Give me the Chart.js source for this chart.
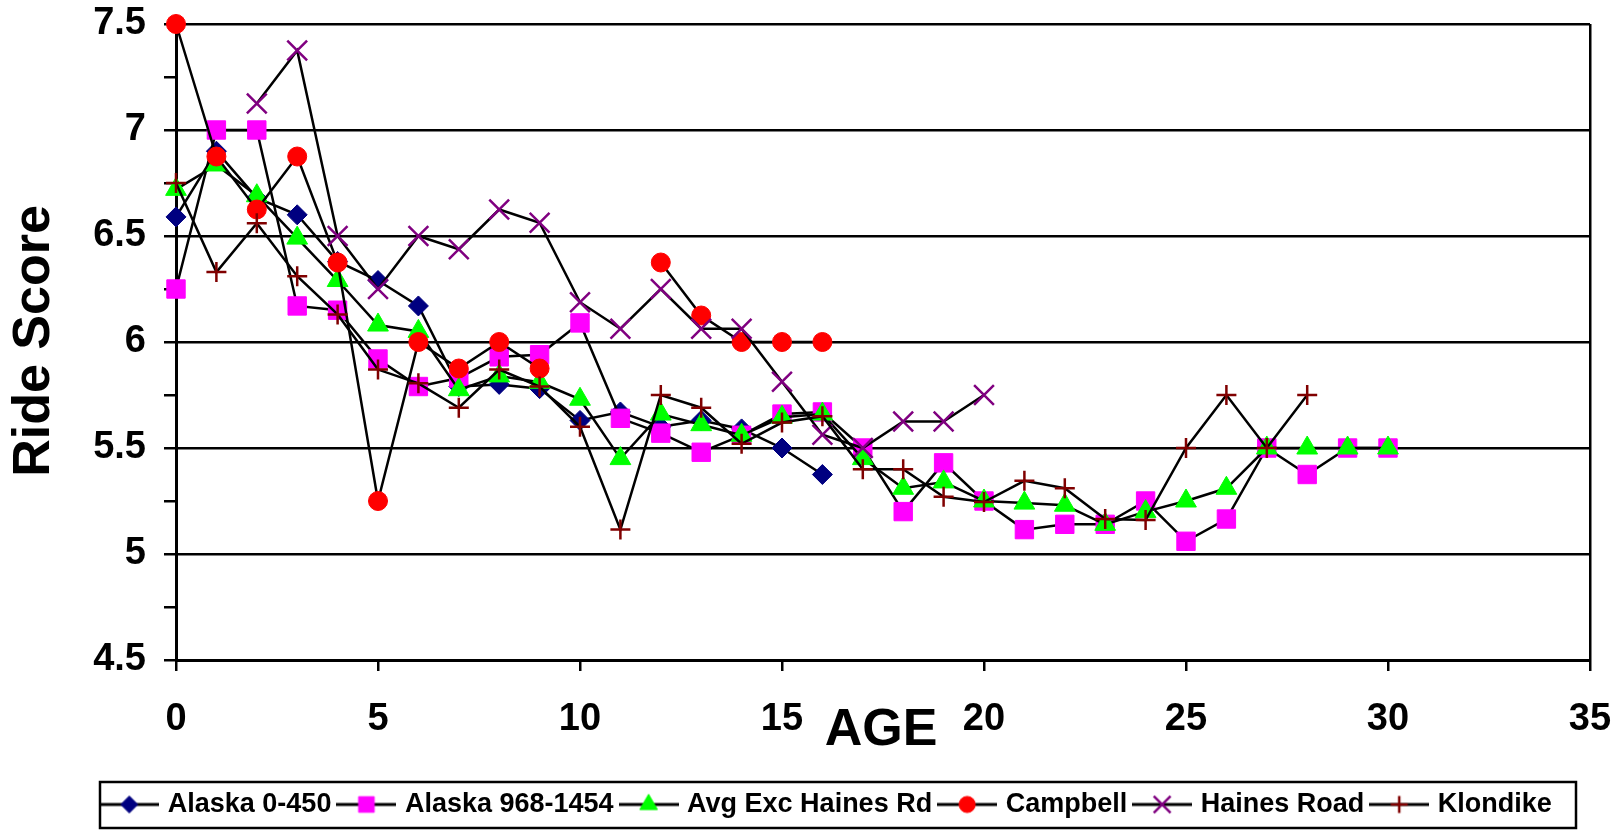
<!DOCTYPE html>
<html>
<head>
<meta charset="utf-8">
<script src="https://cdn.jsdelivr.net/npm/chart.js@4.4.1/dist/chart.umd.min.js"></script>
<style>
  html, body { margin: 0; padding: 0; background: #fff; }
</style>
</head>
<body>
<canvas id="rideChart" width="1624" height="830"></canvas>
<script>
// ride score by pavement age (years)
const ages = [0, 1, 2, 3, 4, 5, 6, 7, 8, 9, 10, 11, 12, 13, 14, 15, 16, 17, 18, 19, 20,
              21, 22, 23, 24, 25, 26, 27, 28, 29, 30];

const alaska0450 = [6.59, 6.90, 6.68, 6.60, 6.38, 6.29, 6.17, 5.79, 5.80, 5.78, 5.63,
                    5.67, 5.60, 5.63, 5.59, 5.50, 5.375];
const alaska9681454 = [6.25, 7.0, 7.0, 6.17, 6.15, 5.92, 5.79, 5.83, 5.93, 5.94, 6.09,
                       5.64, 5.57, 5.48, 5.56, 5.66, 5.67, 5.5, 5.2, 5.43, 5.25,
                       5.115, 5.14, 5.14, 5.25, 5.06, 5.165, 5.5, 5.375, 5.5, 5.5];
const avgExcHaines = [6.72, 6.835, 6.69, 6.49, 6.29, 6.08, 6.05, 5.775, 5.84, 5.81, 5.73,
                      5.45, 5.66, 5.61, 5.56, 5.645, 5.66, 5.45, 5.31, 5.34, 5.25,
                      5.24, 5.23, 5.14, 5.2, 5.25, 5.31, 5.5, 5.5, 5.5, 5.5];
const campbell = [7.5, 6.875, 6.625, 6.875, 6.375, 5.25, 6.0, 5.875, 6.0, 5.875, null,
                  null, 6.375, 6.125, 6.0, 6.0, 6.0];
const hainesRoad = [null, null, 7.125, 7.375, 6.5, 6.25, 6.5, 6.4375, 6.625, 6.5625, 6.1875,
                    6.0625, 6.25, 6.0625, 6.0625, 5.8125, 5.5625, 5.5, 5.625, 5.625, 5.75];
const klondike = [6.75, 6.33, 6.56, 6.31, 6.13, 5.87, 5.805, 5.69, 5.87, 5.79, 5.60,
                  5.115, 5.75, 5.69, 5.52, 5.62, 5.65, 5.40, 5.40, 5.27, 5.245,
                  5.345, 5.31, 5.165, 5.16, 5.5, 5.75, 5.5, 5.75];

const seriesNames = ['Alaska 0-450', 'Alaska 968-1454', 'Avg Exc Haines Rd', 'Campbell', 'Haines Road', 'Klondike'];
const seriesValues = [alaska0450, alaska9681454, avgExcHaines, campbell, hainesRoad, klondike];

const xTicks = { min: 0, max: 35, step: 5 };
const yTicks = { min: 4.5, max: 7.5, step: 0.25 };

const markerColors = ['#000080', '#ff00ff', '#00ff00', '#ff0000', '#800080', '#800000'];
const markerStyles = ['rectRot', 'rect', 'triangle', 'circle', 'crossRot', 'cross'];
const markerRadius = [10, 13, 12, 9.5, 14, 10];

const FONT = '"Liberation Sans", Arial, sans-serif';

// small line+marker pictures for the legend
function makeIcon(i) {
  const c = document.createElement('canvas');
  c.width = 60; c.height = 26;
  const g = c.getContext('2d');
  g.strokeStyle = '#000';
  g.lineWidth = 3;
  g.beginPath(); g.moveTo(0, 13); g.lineTo(60, 13); g.stroke();
  g.fillStyle = markerColors[i];
  g.strokeStyle = markerColors[i];
  const isLine = markerStyles[i].startsWith('cross');
  g.lineWidth = isLine ? 2.5 : 1;
  Chart.helpers.drawPoint(g, {
    pointStyle: markerStyles[i],
    radius: markerRadius[i] * 0.85,
    rotation: 0,
    borderWidth: g.lineWidth
  }, 30, 13);
  return c;
}
const legendIcons = seriesNames.map((n, i) => makeIcon(i));

const datasets = seriesNames.map((name, i) => ({
  label: name,
  data: seriesValues[i].map((v, k) => ({ x: ages[k], y: v })),
  borderColor: '#000',
  borderWidth: 2.5,
  pointStyle: markerStyles[i],
  pointRadius: markerRadius[i],
  pointHoverRadius: markerRadius[i],
  pointBackgroundColor: markerColors[i],
  pointBorderColor: markerColors[i],
  pointBorderWidth: markerStyles[i].startsWith('cross') ? 2.5 : 1,
  spanGaps: false,
  tension: 0,
  clip: false,
  order: seriesNames.length - i   // later series drawn on top
}));

const axisTitles = {
  id: 'axisTitles',
  afterDraw(chart) {
    const ctx = chart.ctx;
    ctx.save();
    ctx.fillStyle = '#000';
    ctx.font = 'bold 52px ' + FONT;
    ctx.textAlign = 'center';
    ctx.textBaseline = 'middle';
    ctx.fillText('AGE', 881, 731);
    ctx.translate(35, 341);
    ctx.rotate(-Math.PI / 2);
    ctx.fillText('Ride Score', 0, 0);
    ctx.restore();
  }
};

const legendFrame = {
  id: 'legendFrame',
  afterDraw(chart) {
    const ctx = chart.ctx;
    ctx.save();
    ctx.strokeStyle = '#000';
    ctx.lineWidth = 2.5;
    ctx.strokeRect(100, 782, 1476, 46);
    ctx.restore();
  }
};

new Chart(document.getElementById('rideChart'), {
  type: 'line',
  data: { datasets },
  options: {
    responsive: false,
    animation: false,
    events: [],
    layout: { padding: { left: 66, right: 34, top: 24, bottom: 2 } },
    plugins: {
      tooltip: { enabled: false },
      legend: {
        position: 'bottom',
        labels: {
          usePointStyle: true,
          pointStyleWidth: 50,
          color: '#000',
          padding: 10,
          font: { family: FONT, size: 27, weight: 'bold' },
          sort: (a, b) => a.datasetIndex - b.datasetIndex,
          generateLabels(chart) {
            const items = Chart.defaults.plugins.legend.labels.generateLabels(chart);
            items.forEach(it => { it.pointStyle = legendIcons[it.datasetIndex]; });
            return items;
          }
        }
      }
    },
    scales: {
      x: {
        type: 'linear',
        min: xTicks.min,
        max: xTicks.max,
        ticks: {
          stepSize: xTicks.step,
          autoSkip: false,
          maxRotation: 0,
          color: '#000',
          padding: 26,
          font: { family: FONT, size: 38, weight: 'bold' }
        },
        grid: {
          color: c => (c.tick && c.tick.value === xTicks.max) ? '#000' : 'rgba(0,0,0,0)',
          tickColor: '#000',
          tickLength: 11,
          lineWidth: 2.5
        },
        border: { color: '#000', width: 3 },
        afterFit(s) { s.height = 121; s.paddingLeft = 0; s.paddingRight = 0; }
      },
      y: {
        min: yTicks.min,
        max: yTicks.max,
        ticks: {
          stepSize: yTicks.step,
          autoSkip: false,
          color: '#000',
          padding: 18,
          font: { family: FONT, size: 38, weight: 'bold' },
          callback: v => (Math.abs(v * 2 - Math.round(v * 2)) < 1e-9) ? String(v) : ''
        },
        grid: {
          color: c => (c.tick && Math.abs(c.tick.value * 2 - Math.round(c.tick.value * 2)) < 1e-9) ? '#000' : 'rgba(0,0,0,0)',
          tickColor: '#000',
          tickLength: 12,
          lineWidth: 2.5
        },
        border: { color: '#000', width: 3 },
        afterFit(s) { s.width = 110; s.paddingTop = 0; s.paddingBottom = 0; }
      }
    }
  },
  plugins: [axisTitles, legendFrame]
});
</script>
</body>
</html>
